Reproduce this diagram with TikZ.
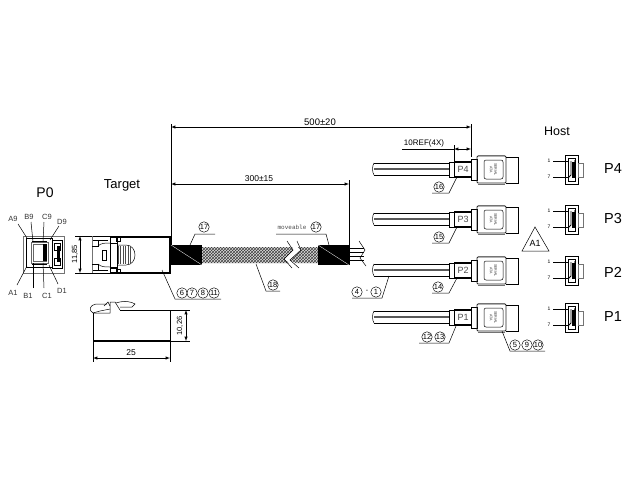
\documentclass[tikz,border=0pt]{standalone}
\usepackage{fontspec}
\setmainfont{Liberation Sans}
\newfontfamily\monofnt{Liberation Mono}
\usetikzlibrary{arrows,patterns}
\tikzset{
  thinline/.style={line width=0.5pt},
  thickline/.style={line width=1.3pt},
  dimline/.style={latex-latex,line width=0.5pt},
  grayline/.style={black!55,line width=0.5pt},
  callout/.style={circle,draw,line width=0.45pt,inner sep=0pt,minimum size=10.5pt,font=\fontsize{7.5}{7.5}\selectfont},
  bigtext/.style={font=\fontsize{14}{14}\selectfont,inner sep=0pt},
  pintext/.style={font=\fontsize{7.5}{8}\selectfont,inner sep=0pt,black!80},
  dimtext/.style={font=\fontsize{8.5}{9}\selectfont,inner sep=0pt},
  meshfill/.style={fill=black!12,postaction={pattern=crosshatch,pattern color=black!75}},
}
\begin{document}
\begin{tikzpicture}[x=1pt,y=-1pt]
  \useasboundingbox [fill=white] (0,0) rectangle (640,480);

  \node [bigtext] (ptzero) at (45,193) {P0};
  \node [bigtext,font=\fontsize{13}{13}\selectfont] (target) at (122,185) {Target};
  \node [bigtext,font=\fontsize{12.5}{13}\selectfont] (host) at (557,131) {Host};

  \draw [grayline] (23,236) rectangle (64,273);
  \draw [line width=1pt] (26,238) rectangle (52,267);
  \draw [thinline,black!60] (31,242) rectangle (48,263);
  \draw [thinline,black!60] (33,244) rectangle (46,261);
  \fill (43,244) rectangle (47,261);
  \draw [line width=1pt] (32,241) -- (47,241) (32,264) -- (47,264);
  \draw [thinline] (52,240) -- (62,240) -- (62,268) -- (52,268);
  \fill (57,246) rectangle (60,262);
  \draw [thinline] (54,243) rectangle (60,250) (54,258) rectangle (60,265);
  \foreach \nm/\lx/\ly/\ax/\ay/\bx/\by in {
    A9/13/219/18/224/27/238, B9/29/217/31/222/33/242, C9/47/217/44/222/43/242, D9/62/222/59/226/50/240,
    A1/13/293/17/285/27/266, B1/28/296/33/288/33/263, C1/47/296/44/288/43/263, D1/62/291/58/284/49/265} {
    \node [pintext] (pin\nm) at (\lx,\ly) {\nm};
    \draw [thinline] (\ax,\ay) -- (\bx,\by);
  }

  \draw [thinline] (75,236) -- (110,236);
  \draw [thinline] (75,273) -- (110,273);
  \draw [dimline] (80,236) -- (80,273);
  \node [dimtext,rotate=90,font=\fontsize{7.5}{8}\selectfont] (dimh) at (75,254) {11,85};
  \draw [grayline] (92,236) -- (92,273);
  \draw [thickline] (110,237) -- (170,237) -- (170,273) -- (110,273);
  \draw [thinline] (110,237) rectangle (117,243) (116,237) rectangle (120,241);
  \draw [thinline] (110,267) rectangle (117,273) (116,269) rectangle (120,273);
  \draw [line width=0.8pt] (117,243) -- (110,243) -- (110,268) -- (117,268) -- cycle;
  \draw [thinline] (93,240) -- (108,240) (93,270) -- (108,270);
  \draw [thinline] (92,246) -- (98,246) -- (98,240) (92,264) -- (98,264) -- (98,270);
  \draw [thinline] (98,246) .. controls (101,243) and (105,243) .. (110,243);
  \draw [thinline] (98,264) .. controls (101,267) and (105,267) .. (110,267);
  \draw [thinline] (102,250) rectangle (106,260);
  \draw [thinline] (117,245) -- (126,245) .. controls (132,245) and (135,250) .. (135,255)
    .. controls (135,260) and (132,265) .. (126,265) -- (117,265);
  \foreach \xx in {118,120.5,...,131} {
    \draw [line width=1pt,black!70] (\xx,246) -- (\xx,264);
  }

  \draw [thinline] (93,313) -- (110,313) -- (110,302) -- (115,302) -- (120,310);
  \draw [line width=0.8pt] (120,310) -- (170,310) -- (170,341);
  \draw [thinline] (93,313) -- (93,341);
  \draw [thickline] (93,341) -- (170,341);
  \draw [thinline] (93,313) .. controls (88,310) and (90,305) .. (96,304) -- (107,304);
  \draw [thinline] (93,313) -- (100,311) -- (110,309);
  \draw [thinline] (104,306) -- (108,302) -- (110,306);
  \draw [thinline] (116,303) .. controls (125,300) and (132,302) .. (135,304) -- (132,307) -- (120,307);
  \draw [thinline] (170,310) -- (190,310) (170,341) -- (190,341);
  \draw [dimline] (186,310) -- (186,341);
  \node [dimtext,rotate=90,font=\fontsize{7.5}{8}\selectfont] (dimv) at (180,326) {10,26};
  \draw [thinline] (93,341) -- (93,362) (170,341) -- (170,362);
  \draw [dimline] (93,358) -- (170,358);
  \node [dimtext] (dimw) at (131,353) {25};

  \fill [meshfill] (202,247) -- (292,247) -- (293,250) -- (284,259) -- (289,263) -- (202,263) -- cycle;
  \fill [meshfill] (298,247) -- (319,247) -- (319,263) -- (296,263) -- (290,260) -- (301,250) -- cycle;
  \draw [thinline] (287,241) -- (293,250) -- (284,259) -- (292,268);
  \draw [thinline] (297,241) -- (301,250) -- (290,260) -- (299,268);
  \fill (171,245) rectangle (202,265);
  \fill (318,245) rectangle (350,265);
  \draw [white,line width=0.3pt] (171,245) -- (202,265);
  \draw [white,line width=0.3pt] (318,245) -- (349,265);
  \foreach \yy in {248,252,256,260} {
    \draw [thinline] (350,\yy) -- (364,\yy);
  }
  \draw [thinline] (359,241) -- (365,250) -- (360,258) -- (366,266);

  \draw [thinline] (171,124) -- (171,245);
  \draw [thinline] (349,180) -- (349,245);
  \draw [thinline] (471,124) -- (471,157);
  \draw [dimline] (171,127) -- (471,127);
  \draw [dimline] (171,184) -- (349,184);
  \node [dimtext,font=\fontsize{9.5}{10}\selectfont] (dimlong) at (320,122) {500±20};
  \node [dimtext] (dimshort) at (259,179) {300±15};

  \foreach \dy/\nm in {0/P4,50/P3,101/P2,148/P1} {
    \begin{scope}[shift={(0,\dy)}]
      \draw [thinline] (374,163) -- (449,163) (374,175) -- (449,175);
      \draw [black!65,line width=1.2pt] (374,169) -- (449,169);
      \draw [thinline] (374,163) .. controls (372,166) and (372,172) .. (374,175);
      \draw [thinline] (449,162) rectangle (471,177);
      \draw [thickline] (454,162) -- (471,162) (454,177) -- (471,177);
      \draw [thinline] (454,162) -- (454,177);
      \node [dimtext,font=\fontsize{9}{9}\selectfont,black!70] (lbl\nm) at (463,169) {\nm};
      \draw [thinline] (471,159) -- (477,159) -- (477,180) -- (471,180) -- cycle;
      \draw [line width=0.8pt,black!85,rounded corners=1pt] (477,156) rectangle (506,183);
      \draw [thinline] (506,157) -- (518,157) -- (518,183) -- (506,183);
      \draw [grayline] (478,155) -- (505,155) (478,184) -- (505,184);
      \draw [thinline,rounded corners=2pt] (484,160) rectangle (503,179);
      \node [rotate=-90,inner sep=0pt,align=center,black!80,font=\fontsize{3.6}{4.2}\selectfont] (sata\nm) at (493.5,169.5) {SERIAL\\[0.3pt]ATA};
      \draw [thinline] (565,155) rectangle (578,184);
      \draw [grayline] (578,163) rectangle (583,177);
      \draw [thinline] (568,158) -- (575,158) -- (575,181) -- (568,181) -- cycle;
      \draw [line width=0.8pt] (571,161) -- (571,175) -- (568,178);
      \fill (572,162) rectangle (576,178);
      \fill (575,161) circle (1) (575,177) circle (1);
      \draw [thinline] (553,161) -- (568,161);
      \draw [thinline] (553,177) -- (568,177);
      \node [inner sep=0pt,font=\fontsize{5}{5}\selectfont] (pina\nm) at (549,161) {1};
      \node [inner sep=0pt,font=\fontsize{5}{5}\selectfont] (pinb\nm) at (549,177) {7};
    \end{scope}
  }

  \node [bigtext,font=\fontsize{14.5}{15}\selectfont] (nameP4) at (613,169) {P4};
  \node [bigtext,font=\fontsize{14.5}{15}\selectfont] (nameP3) at (613,219) {P3};
  \node [bigtext,font=\fontsize{14.5}{15}\selectfont] (nameP2) at (613,272) {P2};
  \node [bigtext,font=\fontsize{14.5}{15}\selectfont] (nameP1) at (613,317) {P1};

  \draw [thinline] (454,145) -- (454,162);
  \draw [dimline] (454,149) -- (471,149);
  \draw [thinline] (402,149) -- (454,149);
  \node [dimtext,font=\fontsize{8}{8}\selectfont] (dimref) at (424,143) {10REF(4X)};

  \draw [thinline] (535,227) -- (522,251) -- (549,251) -- cycle;
  \node [dimtext,font=\fontsize{9}{9}\selectfont] (revmark) at (535,243) {A1};

  \node [callout] (cseventeen) at (204,227) {17};
  \draw [thinline] (215,234) -- (195,234) -- (190,245);
  \node [inner sep=0pt,font=\monofnt\fontsize{6}{6}\selectfont,black!70] (moveable) at (292,227) {moveable};
  \node [callout] (cseventeenb) at (316,227) {17};
  \draw [thinline] (276,234) -- (326,234) -- (329,245);
  \node [callout] (ceighteen) at (273,285) {18};
  \draw [thinline] (280,291) -- (266,291) -- (256,264);
  \node [callout] (csix) at (182,293) {6};
  \node [callout] (cseven) at (192,293) {7};
  \node [callout] (ceight) at (203,293) {8};
  \node [callout] (celeven) at (214,293) {11};
  \draw [thinline] (221,299) -- (175,299) -- (162,270);
  \node [callout] (cfour) at (357,292) {4};
  \node [inner sep=0pt,font=\fontsize{7}{7}\selectfont] (cdash) at (367,291) {-};
  \node [callout] (cone) at (376,292) {1};
  \draw [thinline] (352,298) -- (382,298) -- (389,276);
  \node [callout] (csixteen) at (439,187) {16};
  \draw [thinline] (432,193) -- (449,193) -- (457,177);
  \node [callout] (cfifteen) at (439,237) {15};
  \draw [thinline] (432,243) -- (449,243) -- (457,227);
  \node [callout] (cfourteen) at (438,287) {14};
  \draw [thinline] (432,293) -- (449,293) -- (457,278);
  \node [callout] (ctwelve) at (427,337) {12};
  \node [callout] (cthirteen) at (440,337) {13};
  \draw [thinline] (419,343) -- (449,343) -- (456,326);
  \node [callout] (cfive) at (515,345) {5};
  \node [callout] (cnine) at (527,345) {9};
  \node [callout] (cten) at (538,345) {10};
  \draw [thinline] (545,351) -- (510,351) -- (502,331);
\end{tikzpicture}
\end{document}
